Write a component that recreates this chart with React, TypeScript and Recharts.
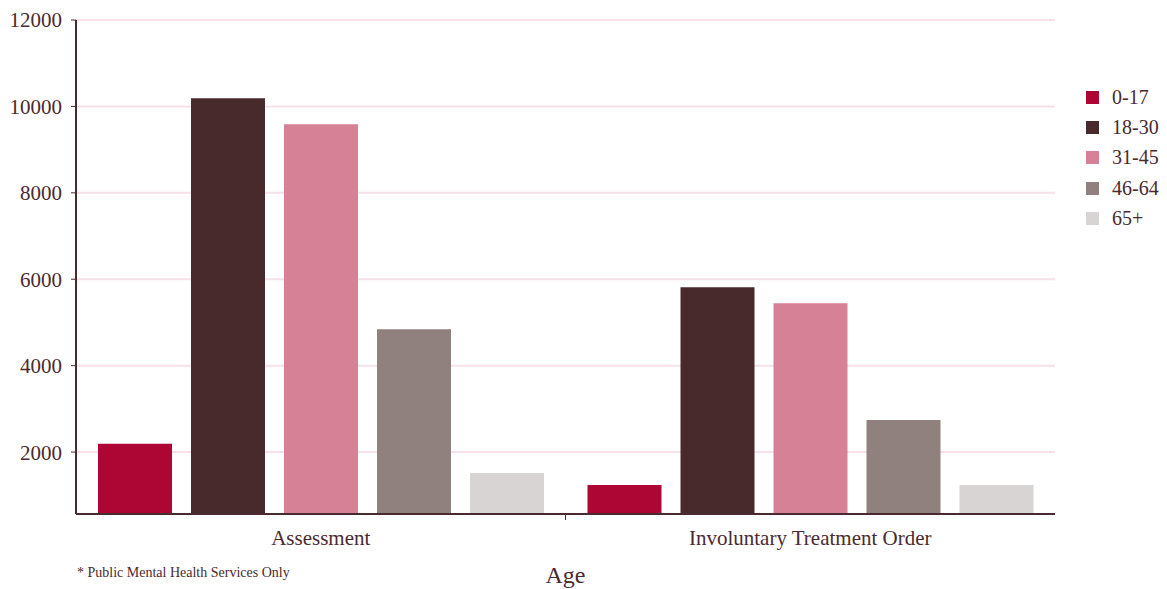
import React from 'react';
import {
  BarChart,
  Bar,
  XAxis,
  YAxis,
  CartesianGrid,
} from 'recharts';

const categories = ['Assessment', 'Involuntary Treatment Order'];
const ageGroups = ['0-17', '18-30', '31-45', '46-64', '65+'];
const age0to17 = [2190, 1240];
const age18to30 = [10190, 5815];
const age31to45 = [9590, 5445];
const age46to64 = [4845, 2740];
const age65plus = [1515, 1240];
const yTicks = [2000, 4000, 6000, 8000, 10000, 12000];

const seriesValues = [age0to17, age18to30, age31to45, age46to64, age65plus];
const colors = ['#ad0634', '#482a2c', '#d68196', '#90807e', '#d9d4d4'];

const data = categories.map((name, i) => {
  const row: Record<string, string | number> = { name };
  ageGroups.forEach((g, j) => {
    row[g] = seriesValues[j][i];
  });
  return row;
});

const WIDTH = 1167;
const HEIGHT = 589;
const Y_AXIS_W = 76;
const RIGHT = 112;
const TEXT = '#4a2a2e';
const FONT = '"Liberation Serif", "DejaVu Serif", serif';

const halfBand = (WIDTH - Y_AXIS_W - RIGHT) / categories.length / 2;

const CategoryTick: React.FC<any> = ({ x, y, payload, index }) => (
  <g>
    <text x={x} y={y + 23} textAnchor="middle" fill={TEXT} fontSize={21} fontFamily={FONT}>
      {payload.value}
    </text>
    {index < categories.length - 1 && (
      <line x1={x + halfBand} x2={x + halfBand} y1={514} y2={520} stroke={TEXT} strokeWidth={1} />
    )}
  </g>
);

// legend kept outside the svg so it doesn't eat into the plot width
const AgeLegend: React.FC = () => (
  <div
    style={{
      position: 'absolute',
      left: 1086,
      top: 82,
      fontFamily: FONT,
      color: TEXT,
      fontSize: 20,
    }}
  >
    {ageGroups.map((g, i) => (
      <div key={g} style={{ display: 'flex', alignItems: 'center', height: 30.3 }}>
        <div style={{ width: 13, height: 13, background: colors[i], marginRight: 13 }} />
        <span>{g}</span>
      </div>
    ))}
  </div>
);

export default function App() {
  return (
    <div
      style={{
        position: 'absolute',
        left: 0,
        top: 0,
        width: WIDTH,
        height: HEIGHT,
        background: '#fff',
        fontFamily: FONT,
      }}
    >
      <BarChart
        width={WIDTH}
        height={HEIGHT}
        data={data}
        margin={{ top: 20, right: RIGHT, bottom: 35, left: 0 }}
        barCategoryGap={22}
        barGap={19}
      >
        <CartesianGrid vertical={false} stroke="#f7e1e8" strokeWidth={2} />
        <XAxis
          dataKey="name"
          height={40}
          axisLine={{ stroke: TEXT, strokeWidth: 2 }}
          tickLine={false}
          tick={<CategoryTick />}
          interval={0}
          label={{ value: 'Age', position: 'bottom', offset: 12, fill: TEXT, fontSize: 24, fontFamily: FONT }}
        />
        <YAxis
          width={Y_AXIS_W}
          domain={[567, 12000]}
          ticks={yTicks}
          allowDataOverflow
          axisLine={{ stroke: TEXT, strokeWidth: 2 }}
          tickLine={{ stroke: TEXT, strokeWidth: 1 }}
          tickSize={5}
          tickMargin={9}
          tick={{ fill: TEXT, fontSize: 21, fontFamily: FONT }}
        />
        {ageGroups.map((g, i) => (
          <Bar key={g} dataKey={g} fill={colors[i]} isAnimationActive={false} />
        ))}
      </BarChart>
      <AgeLegend />
      <div
        style={{
          position: 'absolute',
          left: 77,
          top: 565,
          fontSize: 14,
          color: TEXT,
          fontFamily: FONT,
          whiteSpace: 'nowrap',
        }}
      >
        * Public Mental Health Services Only
      </div>
    </div>
  );
}
